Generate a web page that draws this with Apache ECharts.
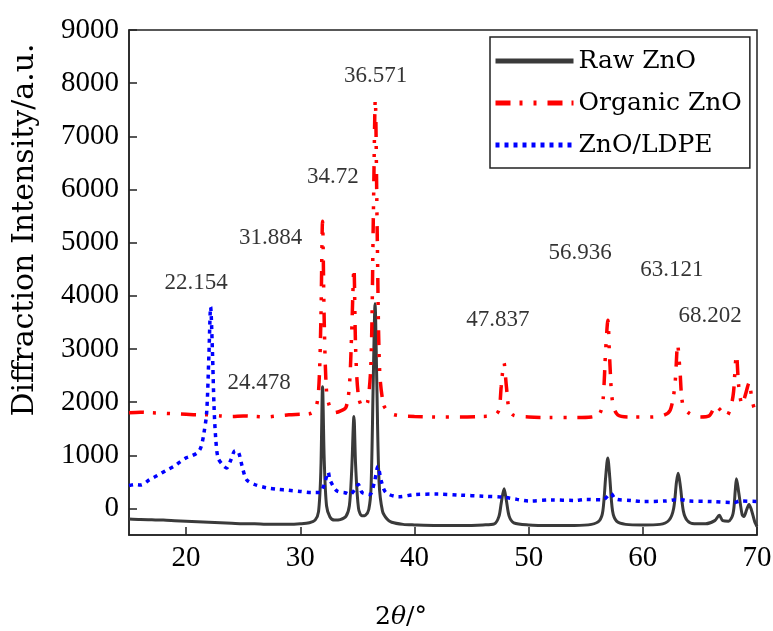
<!DOCTYPE html>
<html>
<head>
<meta charset="utf-8">
<script src="https://cdn.jsdelivr.net/npm/echarts@6/dist/echarts.min.js"></script>
<style>html,body{margin:0;padding:0;background:#fff}#c{width:773px;height:631px}</style>
</head>
<body>
<div id="c"></div>
<script>
// ---- data ----
const rawZnO = [[15,-200],[16,-210],[17,-215],[18,-220],[19,-230],[20,-240],[21,-250],[22,-260],[23,-270],[24,-280],[25,-290],[26,-290],[27,-300],[28,-300],[29,-300],[30,-290],[30.8,-270],[31.3,-220],[31.6,-60],[31.8,700],[31.95,2290],[32.1,900],[32.3,50],[32.6,-160],[33,-220],[33.5,-210],[34,-150],[34.3,50],[34.5,700],[34.7,1730],[34.85,800],[35.1,0],[35.4,-140],[35.7,-130],[36,-20],[36.2,400],[36.4,2500],[36.55,3850],[36.7,2400],[36.9,500],[37.2,-50],[37.6,-200],[38,-260],[39,-300],[40,-310],[42,-320],[44,-320],[46,-310],[47,-290],[47.4,-150],[47.6,100],[47.85,370],[48.05,150],[48.3,-150],[48.7,-270],[50,-310],[52,-320],[54,-320],[55.5,-300],[56.2,-230],[56.5,-50],[56.75,600],[56.93,950],[57.1,600],[57.35,-50],[57.7,-240],[58.5,-300],[60,-310],[61.5,-300],[62.3,-220],[62.7,0],[62.95,500],[63.1,660],[63.3,400],[63.55,-50],[63.9,-230],[64.5,-290],[65.5,-290],[66.3,-230],[66.7,-130],[67,-230],[67.5,-240],[67.9,-100],[68.1,350],[68.2,560],[68.4,300],[68.7,-120],[68.85,-150],[69.1,-20],[69.3,75],[69.5,-20],[69.8,-250],[70,-340]];
const organicZnO = [[15,1800],[16,1810],[17,1800],[18,1790],[19,1780],[20,1770],[21,1760],[22,1760],[23,1740],[24,1730],[25,1740],[26,1730],[27,1720],[28,1740],[29,1760],[30,1770],[30.8,1780],[31.3,1850],[31.6,2200],[31.8,3500],[31.95,5400],[32.1,3500],[32.3,2200],[32.6,1900],[33,1800],[33.5,1830],[34,1900],[34.3,2300],[34.5,3300],[34.7,4520],[34.85,3000],[35.1,2100],[35.5,1900],[35.9,2000],[36.2,2800],[36.4,5500],[36.57,7690],[36.75,5000],[36.95,2600],[37.3,1950],[37.8,1800],[38.5,1750],[40,1730],[42,1720],[44,1720],[46,1730],[47,1750],[47.4,1850],[47.6,2300],[47.84,2740],[48.05,2300],[48.3,1850],[48.7,1750],[50,1720],[52,1710],[54,1710],[55.5,1720],[56.2,1780],[56.5,2000],[56.75,3000],[56.94,3540],[57.1,2800],[57.35,2000],[57.8,1760],[59,1720],[60.5,1720],[61.8,1750],[62.4,1850],[62.8,2300],[63.05,3070],[63.25,2600],[63.5,1950],[64,1800],[65,1720],[65.8,1740],[66.4,1920],[66.8,1850],[67.3,1730],[67.7,1900],[67.95,2200],[68.1,2700],[68.2,2890],[68.4,2300],[68.7,1950],[69,2150],[69.3,2360],[69.6,2000],[70,1730]];
const znoLDPE = [[15,430],[15.5,450],[16,440],[16.8,540],[17.5,620],[18.3,720],[19,800],[19.5,880],[20,950],[20.5,990],[21,1050],[21.3,1150],[21.55,1400],[21.8,1800],[22,2900],[22.15,3790],[22.3,3000],[22.45,1900],[22.6,1300],[22.8,950],[23.2,820],[23.55,760],[23.9,900],[24.3,1090],[24.6,1050],[24.9,800],[25.3,540],[26,450],[27,390],[28,360],[29,340],[30,320],[31,300],[31.7,300],[32.1,450],[32.45,680],[32.6,540],[33.2,330],[34,290],[34.35,260],[34.8,360],[35.08,450],[35.4,300],[35.8,270],[36.1,260],[36.5,500],[36.8,790],[37.1,510],[37.5,300],[38.6,220],[40,260],[42,270],[44,250],[46,230],[47.8,210],[49,170],[50,140],[52,160],[54,150],[55,170],[56.5,160],[57.2,280],[57.6,180],[59,150],[60,130],[62,140],[63.2,170],[64,140],[66,130],[68,110],[68.5,140],[70,130]];
const seriesNames = ['Raw ZnO', 'Organic ZnO', 'ZnO/LDPE'];
const peakLabels = ['22.154','24.478','31.884','34.72','36.571','47.837','56.936','63.121','68.202'];
const peakLabelX = [20.87, 26.4, 27.4, 32.85, 36.6, 47.3, 54.5, 62.55, 65.9];
const peakLabelY = [4238, 2360, 5080, 6230, 8140, 3540, 4800, 4480, 3620];
const xTicks = [20, 30, 40, 50, 60, 70];
const yTicks = [0, 1000, 2000, 3000, 4000, 5000, 6000, 7000, 8000, 9000];

const numFont = '"Liberation Serif", serif';
const txtFont = '"DejaVu Serif", serif';

const chart = echarts.init(document.getElementById('c'), null, {renderer: 'canvas'});
chart.setOption({
  animation: false,
  backgroundColor: '#fff',
  grid: {left: 129, right: 16, top: 30, bottom: 96, show: true, borderColor: '#222', borderWidth: 1.5, containLabel: false, outerBoundsMode: 'none'},
  xAxis: {
    type: 'value', min: 15, max: 70,
    splitLine: {show: false},
    axisLine: {show: true, onZero: false, lineStyle: {color: '#222', width: 1.5}},
    axisTick: {show: true, inside: true, length: 8, customValues: xTicks, lineStyle: {color: '#222', width: 1.5}},
    axisLabel: {customValues: xTicks, color: '#000', fontFamily: numFont, fontSize: 29, margin: 9, formatter: v => String(v)},
    name: '{a|2}{b|θ}{a|/°}', nameLocation: 'middle', nameGap: 70,
    nameTextStyle: {padding: [0, 84, 0, 0], rich: {a: {fontFamily: txtFont, fontSize: 25, color: '#000'}, b: {fontFamily: txtFont, fontSize: 25, fontStyle: 'italic', color: '#000'}}}
  },
  yAxis: {
    type: 'value', min: -500, max: 9000,
    splitLine: {show: false},
    axisLine: {show: true, onZero: false, lineStyle: {color: '#222', width: 1.5}},
    axisTick: {show: true, inside: true, length: 8, customValues: yTicks, lineStyle: {color: '#222', width: 1.5}},
    axisLabel: {customValues: yTicks, color: '#000', fontFamily: numFont, fontSize: 29, margin: 10, formatter: v => String(v)}
  },
  legend: {
    data: seriesNames, orient: 'vertical', left: 490, top: 37,
    padding: [10, 8, 9, 3], itemGap: 14, itemWidth: 78, itemHeight: 28,
    borderColor: '#222', borderWidth: 1.5, backgroundColor: '#fff',
    itemStyle: {opacity: 0},
    lineStyle: {width: 5},
    textStyle: {fontFamily: txtFont, fontSize: 25, color: '#000', lineHeight: 28}
  },
  graphic: [{
    type: 'text', x: 25, y: 230, rotation: Math.PI / 2,
    style: {text: 'Diffraction Intensity/a.u.', font: '30px "DejaVu Serif", serif', fill: '#000', align: 'center', verticalAlign: 'middle'}
  }],
  series: [
    {name: seriesNames[0], type: 'line', data: rawZnO, showSymbol: false, symbol: 'none', smooth: 0.3,
     lineStyle: {color: '#3a3a3a', width: 3}, itemStyle: {color: '#3a3a3a'}, z: 2},
    {name: seriesNames[1], type: 'line', data: organicZnO, showSymbol: false, symbol: 'none', smooth: 0.3,
     lineStyle: {color: '#ff0000', width: 3.5, type: [15, 9, 3, 11, 3, 11]}, itemStyle: {color: '#ff0000'}, z: 3},
    {name: seriesNames[2], type: 'line', data: znoLDPE, showSymbol: false, symbol: 'none', smooth: 0.3,
     lineStyle: {color: '#0000ff', width: 3.5, type: [4, 5]}, itemStyle: {color: '#0000ff'}, z: 4},
    {name: 'labels', type: 'scatter', symbolSize: 0, silent: true, z: 5,
     data: peakLabels.map((t, i) => ({value: [peakLabelX[i], peakLabelY[i]], name: t})),
     label: {show: true, position: 'inside', formatter: p => p.name, fontFamily: numFont, fontSize: 23, color: '#000'}}
  ]
});
</script>
</body>
</html>
